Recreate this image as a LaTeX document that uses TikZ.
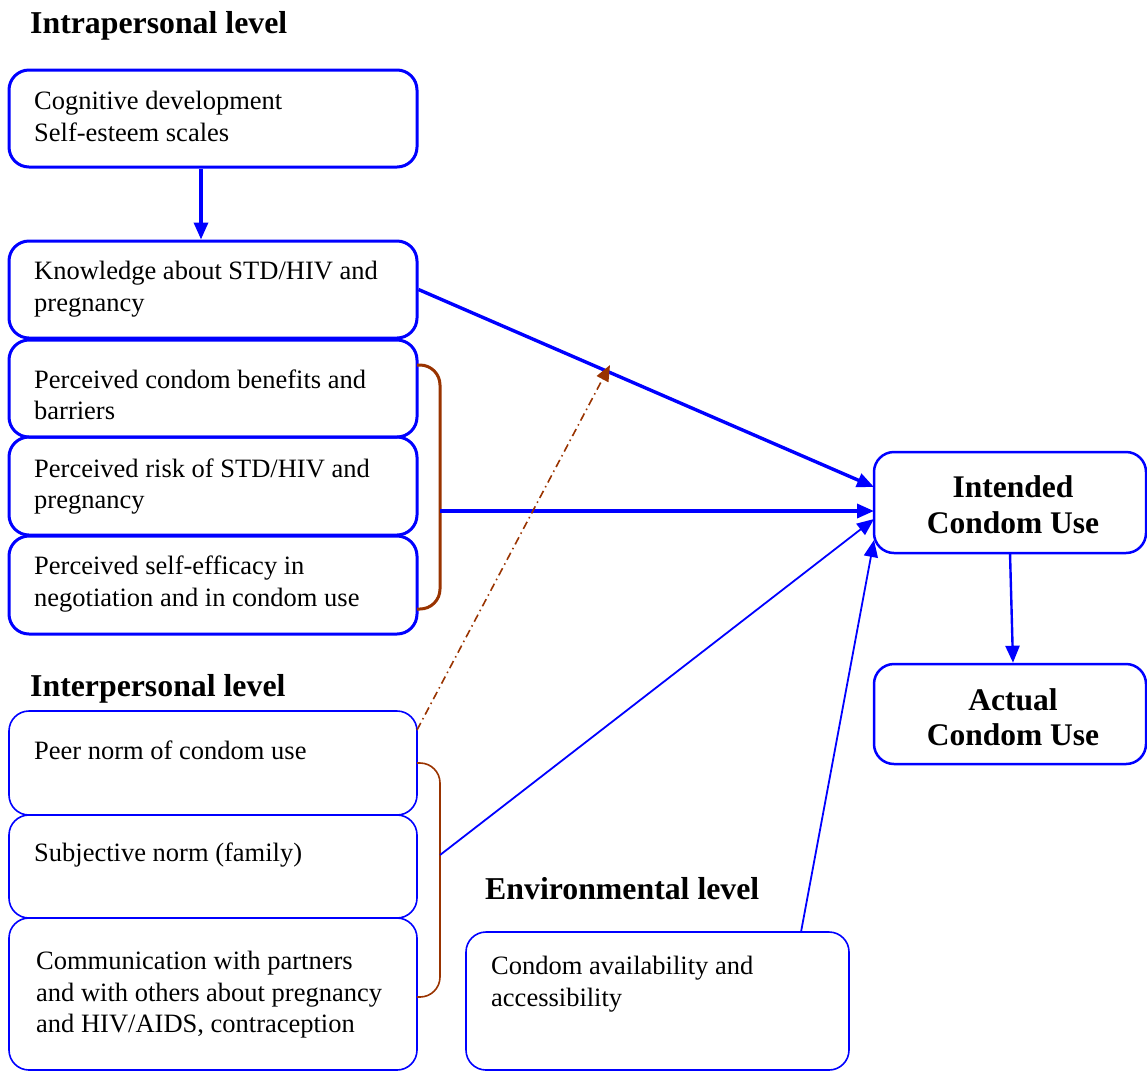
\documentclass[tikz,border=0pt]{standalone}
\usepackage{fontspec}
\setmainfont{Liberation Serif}
\usetikzlibrary{arrows.meta,calc}
\definecolor{brn}{RGB}{153,51,0}
\tikzset{
  boxthick/.style={draw=blue, line width=3pt, rounded corners=20pt, inner sep=0pt, minimum width=408pt},
  boxthin/.style={draw=blue, line width=1.6pt, rounded corners=20pt, inner sep=0pt},
  txt/.style={anchor=west, align=left, inner sep=0pt, font=\fontsize{26.5}{31.5}\selectfont},
  head/.style={anchor=west, inner sep=0pt, font=\fontsize{31.8}{36}\selectfont\bfseries},
  big/.style={align=center, inner sep=0pt, font=\fontsize{31.5}{35.5}\selectfont\bfseries},
  arrthick/.style={draw=blue, line width=3.4pt, -{Triangle[length=17pt,width=14pt]}},
  arrthin/.style={draw=blue, line width=1.8pt, -{Triangle[length=17pt,width=14pt]}},
  brk/.style={draw=brn, rounded corners=20pt}
}
\begin{document}
\begin{tikzpicture}[x=1pt,y=-1pt]
\useasboundingbox (0,0) rectangle (1147,1072);
% headings
\node[head] (h1) at (30,26) {Intrapersonal level};
\node[head] (h2) at (30,689) {Interpersonal level};
\node[head] (h3) at (485,889) {Environmental level};
% intrapersonal boxes
\node[boxthick, minimum height=97pt] (b1) at (213,118.5) {};
\node[txt] (t1) at (34,116.5) {Cognitive development\\Self-esteem scales};
\node[boxthick, minimum height=97pt] (b2) at (213,289.5) {};
\node[txt] (t2) at (34,289) {Knowledge about STD/HIV and\\pregnancy};
\node[boxthick, minimum height=97pt] (b3) at (213,388.5) {};
\node[txt] (t3) at (34,395) {Perceived condom benefits and\\barriers};
\node[boxthick, minimum height=98pt] (b4) at (213,486) {};
\node[txt] (t4) at (34,486.5) {Perceived risk of STD/HIV and\\pregnancy};
\node[boxthick, minimum height=98pt] (b5) at (213,585) {};
\node[txt] (t5) at (34,584) {Perceived self-efficacy in\\negotiation and in condom use};
% interpersonal boxes
\node[boxthin, minimum width=408pt, minimum height=104pt] (b6) at (213,763) {};
\node[txt] (t6) at (34,750) {Peer norm of condom use};
\node[boxthin, minimum width=408pt, minimum height=103pt] (b7) at (213,866.5) {};
\node[txt] (t7) at (34,855) {Subjective norm (family)};
\node[boxthin, minimum width=408pt, minimum height=152pt] (b8) at (213,994) {};
\node[txt] (t8) at (36,995) {Communication with partners\\and with others about pregnancy\\and HIV/AIDS, contraception};
% environmental
\node[boxthin, minimum width=383pt, minimum height=138pt] (b9) at (657.5,1001) {};
\node[txt] (t9) at (491,984) {Condom availability and\\accessibility};
% outcomes
\node[draw=blue, line width=2.5pt, rounded corners=20pt, minimum width=272pt, minimum height=101pt, inner sep=0pt] (ic) at (1010,502.5) {};
\node[big] (ict) at (1013,504.5) {Intended\\Condom Use};
\node[draw=blue, line width=2.5pt, rounded corners=20pt, minimum width=272pt, minimum height=100pt, inner sep=0pt] (ac) at (1010,714) {};
\node[big] (act) at (1013,717) {Actual\\Condom Use};
% brackets
\coordinate (k1a) at (417,365);
\coordinate (k1b) at (417,609);
\coordinate (k1m) at (440,511);
\draw[brk, line width=3pt] (k1a) -- (440,365) -- (440,609) -- (k1b);
\coordinate (k2a) at (417,763);
\coordinate (k2b) at (417,997);
\coordinate (k2m) at (440,855);
\draw[brk, line width=1.6pt] (k2a) -- (440,763) -- (440,997) -- (k2b);
% target points on Intended
\coordinate (i1) at (874,487);
\coordinate (i2) at (874,511);
\coordinate (i3) at (874,519);
\coordinate (i4) at (874,540);
\coordinate (b9t) at (801,932);
\coordinate (b6c) at (417,730);
\coordinate (dd) at (610,365);
% connectors
\draw[arrthick] ($(b1.south)+(-12,0)$) -- ($(b2.north)+(-12,0)$);
\draw[arrthick] (b2.east) -- (i1);
\draw[arrthick] (k1m) -- (i2);
\draw[arrthin] (k2m) -- (i3);
\draw[arrthin] (b9t) -- (i4);
\draw[draw=blue, line width=2.4pt, -{Triangle[length=17pt,width=14pt]}] (1010,553) -- (ac.north -| 1013,0);
\draw[draw=brn, line width=1.6pt, dash pattern=on 8pt off 4pt on 1.5pt off 4pt, -{Triangle[length=16pt,width=13pt]}] (b6c) -- (dd);
\end{tikzpicture}
\end{document}
